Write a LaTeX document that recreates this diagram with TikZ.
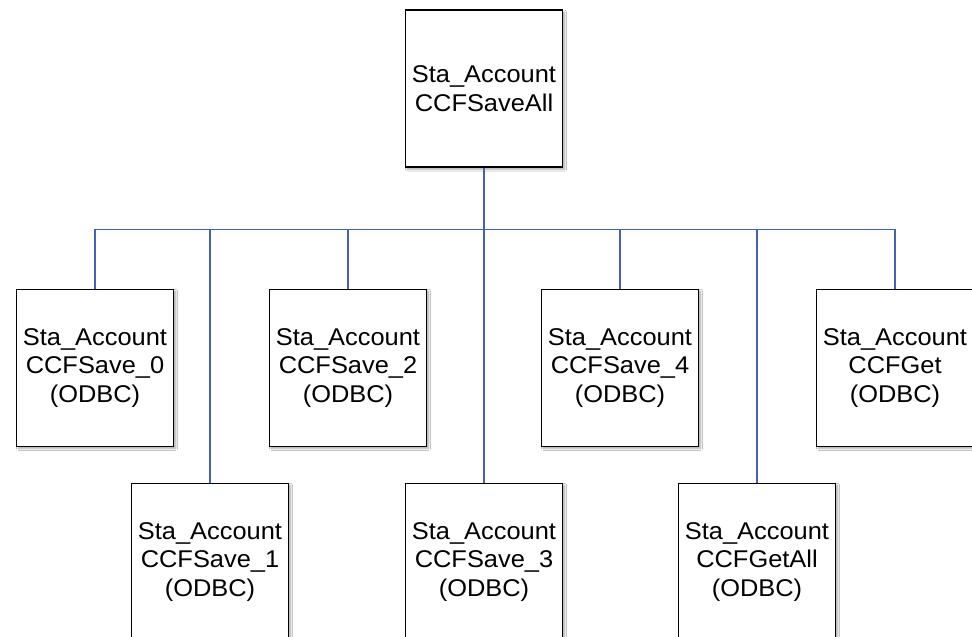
\documentclass[tikz,border=0pt]{standalone}
\usepackage{fontspec}
\setmainfont{Liberation Sans}
\newfontfamily\boxfont[FakeStretch=1.05]{Liberation Sans}
\usetikzlibrary{shadows.blur}
\definecolor{linkblue}{RGB}{68,98,180}
\tikzset{
  unitbox/.style={draw=black, line width=1.6pt, fill=white,
    minimum width=157pt, minimum height=157pt, inner sep=0pt,
    align=center, font=\boxfont\fontsize{24.2pt}{28.7pt}\selectfont,
    blur shadow={shadow xshift=2pt, shadow yshift=-2pt,
      shadow blur radius=2pt, shadow blur steps=6, shadow opacity=35}},
  link/.style={draw=linkblue, line width=1.5pt}
}
\begin{document}
\begin{tikzpicture}[x=1pt, y=-1pt]
  \useasboundingbox (0,0) rectangle (972,637);
  \clip (0,0) rectangle (972,637);
  \fill[white] (0,0) rectangle (972,637);

  % root of the call tree
  \node[unitbox] (root) at (484,88.7) {Sta\_Account\\CCFSaveAll};
  \coordinate (bus) at (484,229.5);

  % first row of callees
  \node[unitbox] (s0) at (95,367.8)  {Sta\_Account\\CCFSave\_0\\(ODBC)};
  \node[unitbox] (s2) at (348,367.8) {Sta\_Account\\CCFSave\_2\\(ODBC)};
  \node[unitbox] (s4) at (620,367.8) {Sta\_Account\\CCFSave\_4\\(ODBC)};
  \node[unitbox] (g)  at (895,367.8) {Sta\_Account\\CCFGet\\(ODBC)};

  % second row of callees
  \node[unitbox] (s1) at (210,561.8) {Sta\_Account\\CCFSave\_1\\(ODBC)};
  \node[unitbox] (s3) at (484,561.8) {Sta\_Account\\CCFSave\_3\\(ODBC)};
  \node[unitbox] (ga) at (757,561.8) {Sta\_Account\\CCFGetAll\\(ODBC)};

  % connectors through the horizontal bus
  \foreach \c in {s0,s1,s2,s3,s4,ga,g}{
    \draw[link] (root.south) -- (bus) -| (\c.north);
  }
\end{tikzpicture}
\end{document}
